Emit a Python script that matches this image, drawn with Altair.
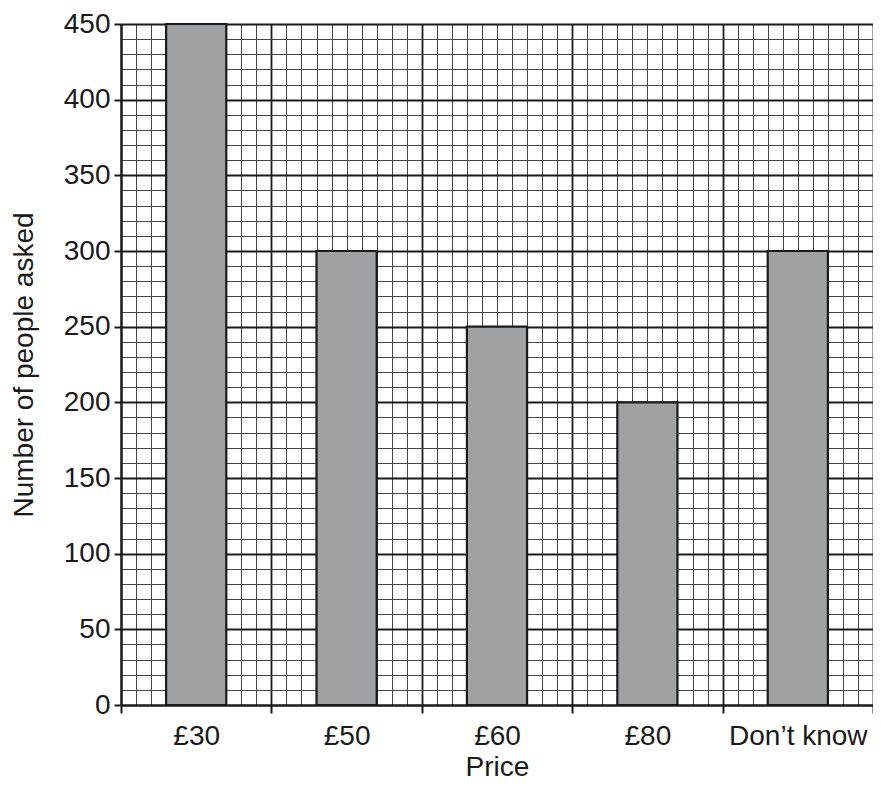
import json
import altair as alt
import pandas as pd

categories = ["£30", "£50", "£60", "£80", "Don’t know"]
values = [450, 300, 250, 200, 300]
y_ticks = list(range(0, 451, 10))
x_ticks = list(range(0, 51))  # 10 grid subdivisions per category

df = pd.DataFrame({
    "cat": categories,
    "idx": list(range(len(categories))),
    "value": values,
})
df["x0"] = df["idx"] * 10 + 3
df["x1"] = df["idx"] * 10 + 7

W, H = 752, 681
FONT = "Liberation Sans"
FS = 28
cat_js = json.dumps(categories, ensure_ascii=False)

x_axis = alt.Axis(
    values=x_ticks,
    title="Price",
    grid=True,
    gridColor={"condition": {"test": "datum.value % 10 === 0", "value": "#1a1a1a"}, "value": "#444444"},
    gridWidth={"condition": {"test": "datum.value % 10 === 0", "value": 1.8}, "value": 1.0},
    tickOpacity={"condition": {"test": "datum.value % 10 === 0", "value": 1}, "value": 0},
    tickSize=8,
    tickWidth=2,
    tickColor="#1a1a1a",
    domainColor="#1a1a1a",
    domainWidth=2.2,
    labelExpr=f"(datum.value % 10 === 0 && datum.value < 50) ? {cat_js}[datum.value/10] : ''",
    labelOffset=W / 10,
    labelAlign="center",
    labelFlush=False,
    labelOverlap=False,
    labelBound=False,
    labelPadding=9,
    labelFontSize=FS,
    labelFont=FONT,
    labelColor="#1a1a1a",
    titleFontSize=FS,
    titleFont=FONT,
    titleFontWeight="normal",
    titleColor="#1a1a1a",
    titleBaseline="alphabetic",
    titleY=70,
)

y_axis = alt.Axis(
    values=y_ticks,
    title="Number of people asked",
    grid=True,
    gridColor={"condition": {"test": "datum.value % 50 === 0", "value": "#1a1a1a"}, "value": "#444444"},
    gridWidth={"condition": {"test": "datum.value % 50 === 0", "value": 1.8}, "value": 1.0},
    tickOpacity={"condition": {"test": "datum.value % 50 === 0", "value": 1}, "value": 0},
    tickSize=7,
    tickWidth=2,
    tickColor="#1a1a1a",
    domainColor="#1a1a1a",
    domainWidth=2.2,
    labelExpr="datum.value % 50 === 0 ? datum.value : ''",
    labelOverlap=False,
    labelBound=False,
    labelFlush=False,
    labelPadding=4,
    labelFontSize=FS,
    labelFont=FONT,
    labelColor="#1a1a1a",
    titleFontSize=FS,
    titleFont=FONT,
    titleFontWeight="normal",
    titleColor="#1a1a1a",
    titlePadding=25,
)

chart = alt.Chart(df).mark_bar(
    fill="#a0a1a3", stroke="#1a1a1a", strokeWidth=2.2
).encode(
    x=alt.X("x0:Q", scale=alt.Scale(domain=[0, 50], nice=False, zero=False), axis=x_axis),
    x2="x1:Q",
    y=alt.Y("value:Q", scale=alt.Scale(domain=[0, 450], nice=False), axis=y_axis),
    y2=alt.datum(0),
    tooltip=["cat", "value"],
).properties(
    width=W,
    height=H,
    autosize=alt.AutoSizeParams(type="none"),
    padding={"left": 113, "top": 16, "right": 0, "bottom": 76},
).configure_view(stroke=None).configure(background="white")

chart.save("out.html", embed_options={"renderer": "svg", "actions": False})
